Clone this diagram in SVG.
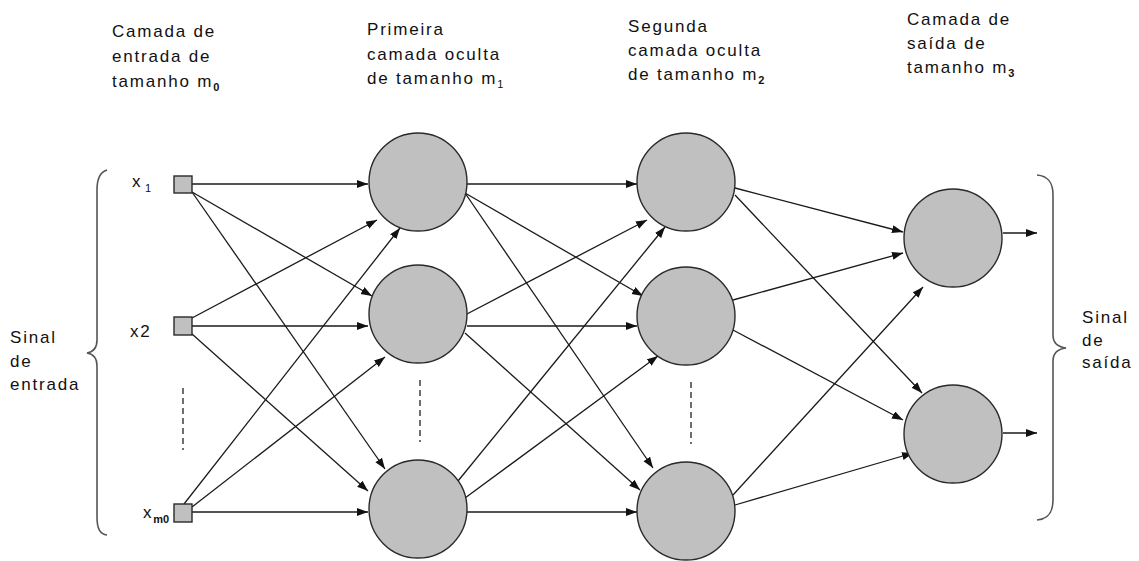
<svg xmlns="http://www.w3.org/2000/svg" width="1139" height="561" viewBox="0 0 1139 561">
  <style>
    .lbl { font-family: "Liberation Sans", Arial, sans-serif; font-size: 17px; letter-spacing: 1.8px; fill: #111; }
    .sub { font-size: 11px; letter-spacing: 0; }
    .bsub { font-size: 11px; font-weight: bold; letter-spacing: 0; }
    .neuron { fill: #c0c0c0; stroke: #2a2a2a; stroke-width: 1.4; }
    .inp { fill: #c0c0c0; stroke: #2a2a2a; stroke-width: 1.4; }
    .edge { stroke: #1a1a1a; stroke-width: 1.3; fill: none; marker-end: url(#arrow); }
    .dots { stroke: #222; stroke-width: 1.3; stroke-dasharray: 6 4; fill: none; }
    .brace { stroke: #555; stroke-width: 1.6; fill: none; }
  </style>
  <defs>
    <marker id="arrow" markerUnits="userSpaceOnUse" markerWidth="12" markerHeight="9" refX="11" refY="4" orient="auto">
      <path d="M0,0 L11,4 L0,8 Z" fill="#111"/>
    </marker>
  </defs>
  <rect width="1139" height="561" fill="#fff"/>

  <!-- layer headings -->
  <g id="heading-input">
    <text class="lbl" x="112" y="37">Camada de</text>
    <text class="lbl" x="112" y="62">entrada de</text>
    <text class="lbl" x="112" y="87">tamanho m<tspan class="bsub" dy="4">0</tspan></text>
  </g>
  <g id="heading-hidden1">
    <text class="lbl" x="367" y="35">Primeira</text>
    <text class="lbl" x="367" y="60">camada oculta</text>
    <text class="lbl" x="367" y="84">de tamanho m<tspan class="sub" dy="4">1</tspan></text>
  </g>
  <g id="heading-hidden2">
    <text class="lbl" x="628" y="32">Segunda</text>
    <text class="lbl" x="628" y="56">camada oculta</text>
    <text class="lbl" x="628" y="80">de tamanho m<tspan class="bsub" dy="4">2</tspan></text>
  </g>
  <g id="heading-output">
    <text class="lbl" x="907" y="25">Camada de</text>
    <text class="lbl" x="907" y="49">saída de</text>
    <text class="lbl" x="907" y="73">tamanho m<tspan class="bsub" dy="4">3</tspan></text>
  </g>

  <!-- input / output signal braces -->
  <g id="input-signal">
    <path class="brace" d="M107,170 C100,172 97,178 97,190 L97,340 C97,348 93,352 87,353 C93,354 97,358 97,366 L97,517 C97,529 100,534 107,535"/>
    <text class="lbl" x="10" y="343">Sinal</text>
    <text class="lbl" x="10" y="367">de</text>
    <text class="lbl" x="10" y="390">entrada</text>
  </g>
  <g id="output-signal">
    <path class="brace" d="M1037,175 C1048,176 1053,182 1053,195 L1053,335 C1053,343 1058,347 1066,348 C1058,349 1053,353 1053,361 L1053,500 C1053,513 1048,519 1037,520"/>
    <text class="lbl" x="1082" y="323">Sinal</text>
    <text class="lbl" x="1082" y="346">de</text>
    <text class="lbl" x="1082" y="368">saída</text>
  </g>

  <!-- connections -->
  <g id="connectors">
    <!-- input layer to first hidden layer -->
    <line class="edge" x1="192" y1="184" x2="368" y2="184"/>
    <line class="edge" x1="192" y1="192" x2="372" y2="296"/>
    <line class="edge" x1="192" y1="192" x2="385" y2="469"/>
    <line class="edge" x1="192" y1="318" x2="377" y2="220"/>
    <line class="edge" x1="192" y1="326" x2="368" y2="326"/>
    <line class="edge" x1="192" y1="334" x2="368" y2="491"/>
    <line class="edge" x1="184" y1="504" x2="400" y2="228"/>
    <line class="edge" x1="192" y1="507" x2="385" y2="357"/>
    <line class="edge" x1="192" y1="512" x2="368" y2="512"/>
    <!-- first hidden layer to second hidden layer -->
    <line class="edge" x1="467" y1="184" x2="637" y2="184"/>
    <line class="edge" x1="465" y1="193" x2="643" y2="296"/>
    <line class="edge" x1="465" y1="193" x2="653" y2="468"/>
    <line class="edge" x1="465" y1="315" x2="647" y2="220"/>
    <line class="edge" x1="467" y1="326" x2="637" y2="326"/>
    <line class="edge" x1="465" y1="333" x2="640" y2="490"/>
    <line class="edge" x1="458" y1="481" x2="665" y2="227"/>
    <line class="edge" x1="465" y1="498" x2="658" y2="356"/>
    <line class="edge" x1="467" y1="512" x2="637" y2="512"/>
    <!-- second hidden layer to output layer -->
    <line class="edge" x1="735" y1="188" x2="903" y2="232"/>
    <line class="edge" x1="735" y1="195" x2="922" y2="393"/>
    <line class="edge" x1="733" y1="300" x2="903" y2="253"/>
    <line class="edge" x1="733" y1="330" x2="903" y2="420"/>
    <line class="edge" x1="733" y1="495" x2="923" y2="287"/>
    <line class="edge" x1="735" y1="505" x2="913" y2="453"/>
    <!-- outputs -->
    <line class="edge" x1="1003" y1="233" x2="1037" y2="233"/>
    <line class="edge" x1="1003" y1="433" x2="1037" y2="433"/>
    <!-- elided units -->
    <line class="dots" x1="183" y1="388" x2="183" y2="450"/>
    <line class="dots" x1="420" y1="380" x2="420" y2="442"/>
    <line class="dots" x1="691" y1="382" x2="691" y2="444"/>
  </g>

  <!-- input units -->
  <g id="x1">
    <rect class="inp" x="174" y="176" width="18" height="17"/>
    <text class="lbl" x="132" y="187">x<tspan class="sub" x="145" dy="5">1</tspan></text>
  </g>
  <g id="x2">
    <rect class="inp" x="174" y="317" width="18" height="18"/>
    <text class="lbl" x="130" y="337">x2</text>
  </g>
  <g id="xm0">
    <rect class="inp" x="174" y="504" width="18" height="18"/>
    <text class="lbl" x="143" y="518">x<tspan class="bsub" dy="5">m0</tspan></text>
  </g>

  <!-- first hidden layer -->
  <g id="h1-1"><circle class="neuron" cx="418" cy="182" r="49"/></g>
  <g id="h1-2"><circle class="neuron" cx="418" cy="314" r="49"/></g>
  <g id="h1-3"><circle class="neuron" cx="418" cy="509" r="49"/></g>

  <!-- second hidden layer -->
  <g id="h2-1"><circle class="neuron" cx="686" cy="182" r="49"/></g>
  <g id="h2-2"><circle class="neuron" cx="686" cy="316" r="49"/></g>
  <g id="h2-3"><circle class="neuron" cx="686" cy="511" r="49"/></g>

  <!-- output layer -->
  <g id="o-1"><circle class="neuron" cx="953" cy="238" r="49"/></g>
  <g id="o-2"><circle class="neuron" cx="953" cy="434" r="49"/></g>
</svg>
